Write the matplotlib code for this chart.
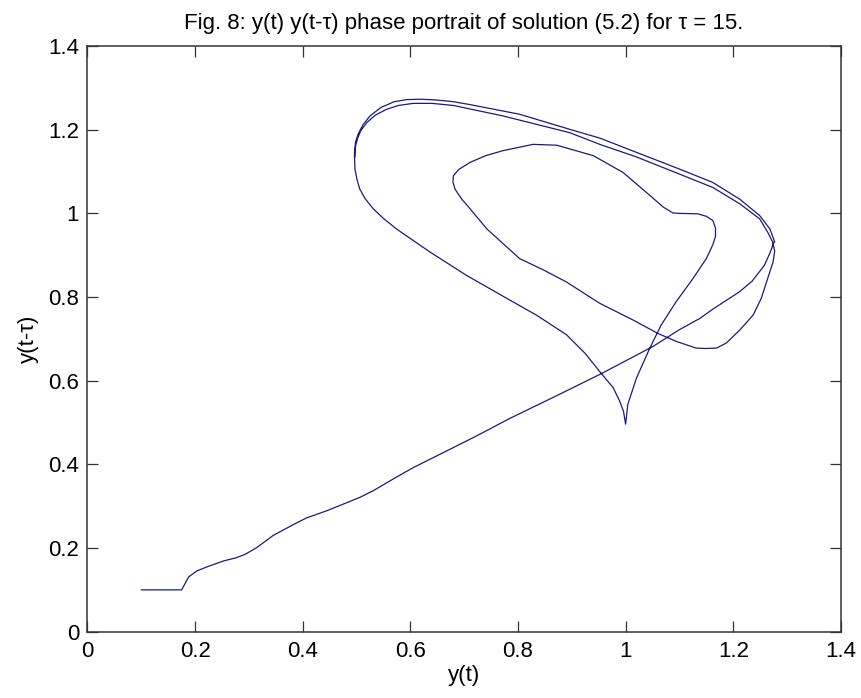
import numpy as np
import matplotlib.pyplot as plt

plt.rcParams['font.family'] = ['Liberation Sans', 'DejaVu Sans']

# history segment and the straight run up to the right tip
line_x = [0.100, 0.175, 0.188, 0.203, 0.222, 0.2525, 0.277, 0.293, 0.3145, 0.345, 0.3825,
          0.407, 0.4445, 0.475, 0.506, 0.531, 0.568, 0.605, 0.661, 0.723, 0.785, 0.870,
          0.955, 1.051, 1.100, 1.138, 1.162, 1.212, 1.235, 1.258, 1.269, 1.276]
line_y = [0.100, 0.100, 0.131, 0.145, 0.155, 0.169, 0.177, 0.185, 0.201, 0.230, 0.256,
          0.272, 0.289, 0.305, 0.321, 0.337, 0.365, 0.392, 0.428, 0.468, 0.510, 0.563,
          0.617, 0.682, 0.722, 0.749, 0.771, 0.813, 0.838, 0.876, 0.908, 0.932]

# first outer loop: tip -> top -> left side -> down into the cusp
outer1_x = [1.277, 1.268, 1.249, 1.212, 1.162, 1.100, 1.020, 0.952, 0.896, 0.803, 0.711,
            0.680, 0.649, 0.620, 0.593, 0.570, 0.545, 0.525, 0.512, 0.503, 0.498, 0.496,
            0.497, 0.501, 0.506, 0.516, 0.531, 0.550, 0.574, 0.636, 0.704, 0.779, 0.834,
            0.890, 0.925, 0.955, 0.977, 0.989, 0.996, 1.000]
outer1_y = [0.932, 0.963, 0.995, 1.034, 1.074, 1.106, 1.146, 1.180, 1.201, 1.237, 1.260,
            1.267, 1.271, 1.273, 1.272, 1.267, 1.253, 1.233, 1.212, 1.190, 1.170, 1.140,
            1.106, 1.080, 1.058, 1.035, 1.011, 0.988, 0.963, 0.908, 0.852, 0.797, 0.757,
            0.710, 0.665, 0.617, 0.583, 0.551, 0.527, 0.496]

# cusp -> inner loop -> bottom -> back up to the tip
inner_x = [1.000, 1.004, 1.020, 1.045, 1.066, 1.094, 1.125, 1.150, 1.162, 1.167, 1.167,
           1.162, 1.150, 1.134, 1.100, 1.088, 1.070, 1.045, 0.995, 0.940, 0.872, 0.828,
           0.772, 0.740, 0.711, 0.690, 0.680, 0.679, 0.683, 0.695, 0.711, 0.742, 0.803,
           0.847, 0.890, 0.952, 1.014, 1.060, 1.094, 1.131, 1.150, 1.169, 1.187, 1.212,
           1.237, 1.252, 1.264, 1.274, 1.277, 1.273]
inner_y = [0.496, 0.543, 0.606, 0.678, 0.733, 0.789, 0.844, 0.892, 0.925, 0.945, 0.965,
           0.983, 0.993, 0.999, 1.000, 1.001, 1.015, 1.043, 1.098, 1.138, 1.163, 1.165,
           1.150, 1.138, 1.122, 1.105, 1.090, 1.075, 1.058, 1.035, 1.011, 0.963, 0.892,
           0.865, 0.836, 0.785, 0.745, 0.713, 0.694, 0.678, 0.677, 0.678, 0.690, 0.721,
           0.757, 0.797, 0.844, 0.884, 0.910, 0.932]

# second outer loop: tip -> top -> ends on the left side
outer2_x = [1.273, 1.264, 1.249, 1.212, 1.162, 1.100, 1.020, 0.952, 0.896, 0.772, 0.680,
            0.640, 0.605, 0.578, 0.556, 0.535, 0.519, 0.508, 0.502, 0.498, 0.497]
outer2_y = [0.932, 0.955, 0.987, 1.023, 1.062, 1.094, 1.135, 1.165, 1.193, 1.233, 1.258,
            1.263, 1.263, 1.258, 1.249, 1.235, 1.217, 1.198, 1.180, 1.160, 1.135]

x = np.concatenate([line_x, outer1_x, inner_x, outer2_x])
y = np.concatenate([line_y, outer1_y, inner_y, outer2_y])

fig = plt.figure(figsize=(8.62, 6.98), dpi=100)
ax = fig.add_axes([0.1015, 0.095, 0.874, 0.839])
ax.plot(x, y, color=(0.1, 0.1, 0.5), linewidth=0.9)

ax.set_xlim(0, 1.4)
ax.set_ylim(0, 1.4)
ax.set_xticks(np.arange(0, 1.41, 0.2))
ax.set_yticks(np.arange(0, 1.41, 0.2))
ax.set_xticklabels(["0", "0.2", "0.4", "0.6", "0.8", "1", "1.2", "1.4"])
ax.set_yticklabels(["0", "0.2", "0.4", "0.6", "0.8", "1", "1.2", "1.4"])
ax.tick_params(direction="in", top=True, right=True, length=8, width=0.9,
               labelsize=16, color="#333333")
ax.tick_params(axis="x", pad=7)
ax.tick_params(axis="y", pad=6)
for s in ax.spines.values():
    s.set_linewidth(1.1)
    s.set_color("#333333")

ax.set_xlabel("y(t)", fontsize=16, labelpad=2)
ax.set_ylabel("y(t-\u03c4)", fontsize=16, labelpad=7)
ax.set_title("Fig. 8: y(t) y(t-\u03c4) phase portrait of solution (5.2) for \u03c4 = 15.",
             fontsize=16, pad=12)

fig.savefig("out.png", dpi=100)
